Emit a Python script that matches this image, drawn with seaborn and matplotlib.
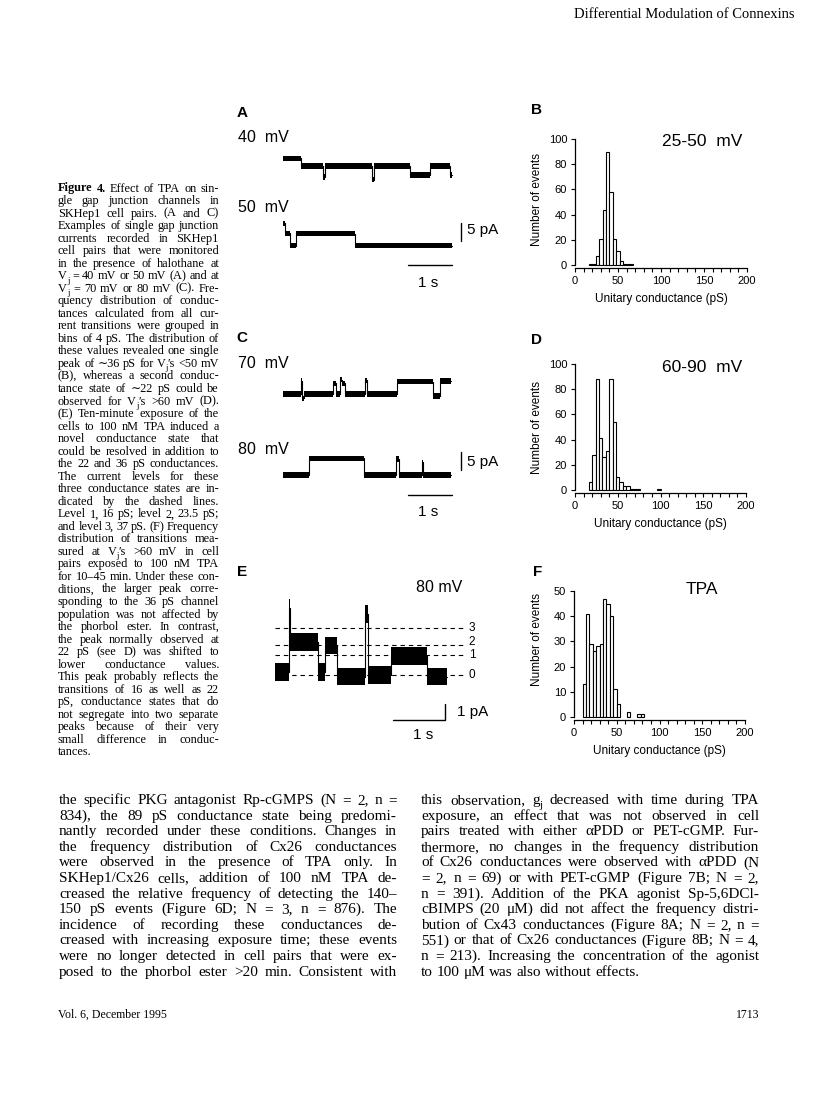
import matplotlib
matplotlib.use('Agg')
import numpy as np
import pandas as pd
import seaborn as sns
import matplotlib.pyplot as plt

W, H = 816, 1093
SANS = ['Liberation Sans', 'DejaVu Sans']
SERIF = ['Liberation Serif', 'DejaVu Serif']

# --- histogram data (bins of 4 pS) ---
b_centers = [18, 22, 26, 30, 34, 38, 42, 46, 50, 54, 58, 62, 66]
b_counts = [1, 1, 7, 21, 44, 90, 58, 21, 11, 3, 1, 1, 1]

d_centers = [18, 22, 26, 30, 34, 38, 42, 46, 50, 54, 58, 62, 66, 70, 74, 98]
d_counts = [6, 28, 88, 41, 26, 31, 88, 54, 10, 6, 3, 3, 1, 1, 1, 1]

f_centers = [12, 16, 20, 24, 28, 32, 36, 40, 44, 48, 52, 64, 76, 80]
f_counts = [13, 41, 29, 26, 28, 29, 47, 45, 40, 11, 5, 2, 1, 1]

# --- single channel traces: segment start (s) and current level (pA) ---
a40_t = [0.00, 0.42, 0.91, 0.95, 2.03, 2.07, 2.89, 3.34, 3.80]
a40_pa = [2.1, 0.0, -3.0, 0.0, -3.8, 0.0, -2.5, 0.0, -2.5]
a40_end = 3.84
a50_t = [0.00, 0.04, 0.15, 0.30, 1.63]
a50_pa = [6.2, 3.4, 0.0, 3.3, 0.0]
a50_end = 3.83

c70_t = [0.00, 0.40, 0.44, 0.47, 1.14, 1.20, 1.29, 1.35, 1.41, 1.86, 1.90, 2.58, 3.40, 3.56]
c70_pa = [0.0, 3.6, -1.2, 0.0, 3.0, 0.0, 4.0, 3.0, 0.0, 3.8, 0.0, 3.4, -0.5, 3.6]
c70_end = 3.81
c80_t = [0.00, 0.59, 1.85, 2.56, 2.64, 3.15, 3.19]
c80_pa = [0.0, 4.6, 0.0, 4.4, 0.0, 3.5, 0.0]
c80_end = 3.81

e_t = [0.00, 0.26, 0.29, 0.83, 0.96, 1.19, 1.73, 1.79, 2.24, 2.92]
e_pa = [0.2, 4.2, 2.05, 0.2, 1.85, -0.1, 3.8, 0.0, 1.2, -0.1]
e_end = 3.30
e_levels = [0.0, 1.28, 1.88, 2.96]
e_level_names = ['0', '1', '2', '3']

caption = [
    "Figure 4.  Effect of TPA on sin-",
    "gle gap junction channels in",
    "SKHep1 cell pairs. (A and C)",
    "Examples of single gap junction",
    "currents recorded in SKHep1",
    "cell pairs that were monitored",
    "in the presence of halothane at",
    "V_j = 40 mV or 50 mV (A) and at",
    "V_j = 70 mV or 80 mV (C). Fre-",
    "quency distribution of conduc-",
    "tances calculated from all cur-",
    "rent transitions were grouped in",
    "bins of 4 pS. The distribution of",
    "these values revealed one single",
    "peak of ∼36 pS for V_j′s <50 mV",
    "(B), whereas a second conduc-",
    "tance state of ∼22 pS could be",
    "observed for V_j′s >60 mV (D).",
    "(E) Ten-minute exposure of the",
    "cells to 100 nM TPA induced a",
    "novel conductance state that",
    "could be resolved in addition to",
    "the 22 and 36 pS conductances.",
    "The current levels for these",
    "three conductance states are in-",
    "dicated by the dashed lines.",
    "Level 1, 16 pS; level 2, 23.5 pS;",
    "and level 3, 37 pS. (F) Frequency",
    "distribution of transitions mea-",
    "sured at V_j′s >60 mV in cell",
    "pairs exposed to 100 nM TPA",
    "for 10–45 min. Under these con-",
    "ditions, the larger peak corre-",
    "sponding to the 36 pS channel",
    "population was not affected by",
    "the phorbol ester. In contrast,",
    "the peak normally observed at",
    "22 pS (see D) was shifted to",
    "lower conductance values.",
    "This peak probably reflects the",
    "transitions of 16 as well as 22",
    "pS, conductance states that do",
    "not segregate into two separate",
    "peaks because of their very",
    "small difference in conduc-",
    "tances.",
]

body_left = [
    "the specific PKG antagonist Rp-cGMPS (N = 2, n =",
    "834), the 89 pS conductance state being predomi-",
    "nantly recorded under these conditions. Changes in",
    "the frequency distribution of Cx26 conductances",
    "were observed in the presence of TPA only. In",
    "SKHep1/Cx26 cells, addition of 100 nM TPA de-",
    "creased the relative frequency of detecting the 140–",
    "150 pS events (Figure 6D; N = 3, n = 876). The",
    "incidence of recording these conductances de-",
    "creased with increasing exposure time; these events",
    "were no longer detected in cell pairs that were ex-",
    "posed to the phorbol ester >20 min. Consistent with",
]

body_right = [
    "this observation, g_j decreased with time during TPA",
    "exposure, an effect that was not observed in cell",
    "pairs treated with either αPDD or PET-cGMP. Fur-",
    "thermore, no changes in the frequency distribution",
    "of Cx26 conductances were observed with αPDD (N",
    "= 2, n = 69) or with PET-cGMP (Figure 7B; N = 2,",
    "n = 391). Addition of the PKA agonist Sp-5,6DCl-",
    "cBIMPS (20 μM) did not affect the frequency distri-",
    "bution of Cx43 conductances (Figure 8A; N = 2, n =",
    "551) or that of Cx26 conductances (Figure 8B; N = 4,",
    "n = 213). Increasing the concentration of the agonist",
    "to 100 μM was also without effects.",
]

sns.set_theme(style='ticks')
plt.rcParams['font.family'] = SANS
plt.rcParams['text.color'] = 'black'
plt.rcParams['axes.edgecolor'] = 'black'
plt.rcParams['xtick.color'] = 'black'
plt.rcParams['ytick.color'] = 'black'

fig = plt.figure(figsize=(W / 100, H / 100), dpi=100)
fig.patch.set_facecolor('white')
rend = fig.canvas.get_renderer()


def put(px, py, s, **kw):
    return fig.text(px / W, 1 - py / H, s, **kw)


def px_axes(x0, y0, x1, y1):
    return fig.add_axes([x0 / W, 1 - y1 / H, (x1 - x0) / W, (y1 - y0) / H])


def word_pieces(w, size):
    # "V_j′s" -> V, subscript j, ′s
    if '_' not in w:
        return [(w, size, 0.0)]
    base, tail = w.split('_', 1)
    px = size * 100 / 72
    out = [(base, size, 0.0), (tail[0], size * 0.7, 0.28 * px)]
    if tail[1:]:
        out.append((tail[1:], size, 0.0))
    return out


def justify(lines, x0, x1, y0, dy, size, free_last=True, bold_first=0):
    for i, line in enumerate(lines):
        y = y0 + i * dy
        words = line.split()
        groups = []
        for k, w in enumerate(words):
            wt = 'bold' if (i == 0 and k < bold_first) else 'normal'
            grp = []
            for s, sz, off in word_pieces(w, size):
                o = put(x0, y + off, s, size=sz, family=SERIF, weight=wt, va='baseline')
                grp.append((o, o.get_window_extent(rend).width))
            groups.append(grp)
        widths = [sum(wd for _, wd in g) for g in groups]
        space = size * 100 / 72 * 0.25
        if (free_last and i == len(lines) - 1) or len(words) < 2:
            gap = space
        else:
            gap = (x1 - x0 - sum(widths)) / (len(words) - 1)
        x = x0
        for g, wd in zip(groups, widths):
            xx = x
            for o, pw in g:
                o.set_x(xx / W)
                xx += pw
            x += wd + gap


def hist_panel(box, centers, counts, ymax, ystep):
    ax = px_axes(*box)
    df = pd.DataFrame({'g': centers, 'n': counts})
    lo, hi = min(centers) - 2, max(centers) + 2
    sns.histplot(data=df, x='g', weights='n', binwidth=4, binrange=(lo, hi),
                 ax=ax, color='white', edgecolor='black', linewidth=0.8, alpha=1)
    for p in list(ax.patches):
        if p.get_height() == 0:
            p.remove()
        else:
            p.set_clip_on(False)
    ax.set_facecolor('none')
    ax.set_xlim(0, 200)
    ax.set_ylim(0, ymax)
    ax.set_xticks(range(0, 201, 50))
    ax.set_xticks(range(0, 201, 10), minor=True)
    ax.set_yticks(np.arange(0, ymax + 1, ystep))
    ax.tick_params(which='both', direction='out', length=2.6, width=0.8,
                   labelsize=8, pad=3)
    sns.despine(ax=ax)
    ax.spines['bottom'].set_position(('outward', 2.2))
    ax.spines['left'].set_bounds(0, ymax)
    ax.spines['bottom'].set_bounds(0, 200)
    for s in ('left', 'bottom'):
        ax.spines[s].set_linewidth(0.9)
    ax.set_xlabel('')
    ax.set_ylabel('')
    return ax


def trace_axes(box, t0_px, px_s, v0_py, px_pa):
    ax = px_axes(*box)
    x0, y0, x1, y1 = box
    ax.set_xlim((x0 - t0_px) / px_s, (x1 - t0_px) / px_s)
    ax.set_ylim((v0_py - y1) / px_pa, (v0_py - y0) / px_pa)
    ax.axis('off')
    return ax


def draw_trace(ax, t, pa, t_end, offset, hw):
    tt = np.append(t, t_end)
    vv = np.append(pa, pa[-1]) + offset
    ax.fill_between(tt, vv - hw, vv + hw, step='post', color='black', lw=0)
    ax.plot(tt, vv, drawstyle='steps-post', color='black', lw=0.8)


# --- header ---
put(795, 15, "Differential Modulation of Connexins", size=10.5, family=SERIF,
    ha='right', va='center')

# --- panel letters ---
for lab, (x, y) in {'A': (242, 113), 'B': (537, 110), 'C': (242, 338),
                    'D': (537, 340), 'E': (242, 572), 'F': (538, 572)}.items():
    put(x, y, lab, size=11, weight='bold', ha='center', va='center')

# --- panel A ---
ax = trace_axes((230, 120, 515, 300), 283, 44, 166, 3.6)
draw_trace(ax, a40_t, a40_pa, a40_end, 0.0, 0.75)
draw_trace(ax, a50_t, a50_pa, a50_end, -22.1, 0.75)
ax.plot([4.05, 4.05], [-20.8, -15.8], color='black', lw=1)
ax.plot([2.84, 3.84], [-27.5, -27.5], color='black', lw=1)
put(238, 138, "40  mV", size=11.5, ha='left', va='center')
put(238, 207, "50  mV", size=11.5, ha='left', va='center')
put(467, 230, "5 pA", size=11, ha='left', va='center')
put(428, 283, "1 s", size=11, ha='center', va='center')

# --- panel C ---
ax = trace_axes((230, 350, 515, 530), 283, 44, 394, 3.6)
draw_trace(ax, c70_t, c70_pa, c70_end, 0.0, 0.75)
draw_trace(ax, c80_t, c80_pa, c80_end, -22.5, 0.8)
ax.plot([4.05, 4.05], [-21.1, -16.1], color='black', lw=1)
ax.plot([2.84, 3.84], [-28.1, -28.1], color='black', lw=1)
put(238, 363, "70  mV", size=11.5, ha='left', va='center')
put(238, 450, "80  mV", size=11.5, ha='left', va='center')
put(467, 462, "5 pA", size=11, ha='left', va='center')
put(428, 512, "1 s", size=11, ha='center', va='center')

# --- panel E ---
ax = trace_axes((260, 595, 510, 745), 275, 52, 675, 16)
label_nudge = [0.0, -0.06, 0.2, 0.0]
for lv, nm, nd in zip(e_levels, e_level_names, label_nudge):
    ax.plot([0, 3.62], [lv, lv], color='black', lw=0.8, ls=(0, (4, 3.5)))
    ax.text(3.79, lv + nd, nm, size=8.5, ha='center', va='center')
draw_trace(ax, e_t, e_pa, e_end, 0.0, 0.55)
ax.plot([2.27, 3.27, 3.27], [-2.81, -2.81, -1.81], color='black', lw=1)
put(439, 588, "80 mV", size=11.5, ha='center', va='center')
put(457, 712, "1 pA", size=11, ha='left', va='center')
put(423, 735, "1 s", size=11, ha='center', va='center')

# --- histograms B, D, F ---
for box, cen, cnt, ymax, ystep, title, ty, ly in [
        ((575, 139, 747, 265), b_centers, b_counts, 100, 20, "25-50  mV", 141, 199),
        ((575, 364, 746, 490), d_centers, d_counts, 100, 20, "60-90  mV", 367, 427),
        ((574, 591, 745, 717), f_centers, f_counts, 50, 10, "TPA", 589, 640)]:
    hist_panel(box, cen, cnt, ymax, ystep)
    x0, y0, x1, y1 = box
    put((x0 + x1) / 2, y1 + 34, "Unitary conductance (pS)", size=8.5,
        ha='center', va='center')
    put(537, ly, "Number of events", size=8.5, rotation=90,
        ha='center', va='center')
    put(702, ty, title, size=12.5, ha='center', va='center')

# --- legend text and body text ---
justify(caption, 58, 219, 191.5, 12.53, 8.8, bold_first=2)
justify(body_left, 59, 397, 804, 15.6, 11.0, free_last=False)
justify(body_right, 421, 759, 804, 15.6, 11.0)

put(58, 1015, "Vol. 6, December 1995", size=8.5, family=SERIF, ha='left', va='center')
put(759, 1015, "1713", size=8.5, family=SERIF, ha='right', va='center')

fig.savefig('out.png', dpi=100, facecolor='white')
